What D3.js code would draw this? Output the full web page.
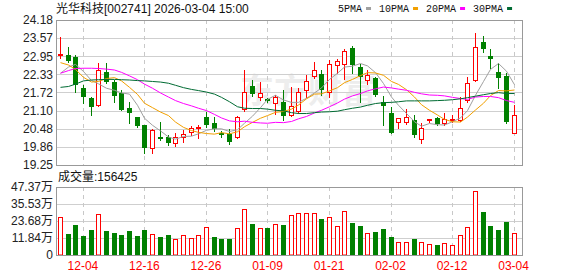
<!DOCTYPE html>
<html>
<head>
<meta charset="utf-8">
<script src="https://cdn.jsdelivr.net/npm/d3@7"></script>
<style>
body { margin: 0; background: #fff; }
svg { display: block; }
</style>
</head>
<body>
<div id="chart"></div>
<script>
// trading days shown on the chart
const dates = [
	"12-01","12-02","12-03","12-04","12-05","12-08","12-09","12-10","12-11","12-12",
	"12-15","12-16","12-17","12-18","12-19","12-22","12-23","12-24","12-25","12-26",
	"12-29","12-30","12-31","01-05","01-06","01-07","01-08","01-09","01-12","01-13",
	"01-14","01-15","01-16","01-19","01-20","01-21","01-22","01-23","01-26","01-27",
	"01-28","01-29","01-30","02-02","02-03","02-04","02-05","02-06","02-09","02-10",
	"02-11","02-12","02-13","02-24","02-25","02-26","02-27","03-02","03-03","03-04"
];

const open = [
	22.99,22.99,22.91,21.87,21.52,21.29,22.40,22.06,21.69,21.18,
	20.87,20.60,19.84,20.19,20.19,20.01,20.19,20.36,20.52,20.87,
	20.67,20.33,20.29,20.19,21.14,21.94,21.55,21.49,21.35,21.40,
	20.95,21.10,21.80,22.29,22.34,21.74,22.65,22.68,23.22,22.57,
	22.14,22.20,21.40,21.01,20.70,20.70,20.78,20.12,20.78,20.84,
	20.67,20.80,20.78,21.46,22.14,23.42,22.96,22.42,22.28,20.33
];
const high = [
	23.61,23.25,22.99,21.97,21.57,22.73,22.73,22.14,21.80,21.40,
	20.89,20.60,20.47,20.70,20.27,20.33,20.44,20.58,20.61,21.06,
	20.89,20.39,20.46,20.92,22.48,22.14,22.07,21.54,21.62,21.80,
	21.91,21.86,22.31,22.74,22.48,22.82,22.84,23.18,23.30,22.67,
	22.48,22.25,21.60,21.21,20.84,21.14,20.95,20.67,20.83,20.89,
	21.01,20.95,21.57,22.23,23.75,23.65,23.19,22.71,22.37,21.29
];
const low = [
	22.88,22.76,21.74,21.35,20.95,21.26,22.03,21.40,21.12,20.67,
	20.55,19.67,19.67,20.10,19.93,19.91,20.02,20.27,20.16,20.55,
	20.42,20.21,19.96,20.16,21.10,21.60,21.46,21.39,20.98,20.78,
	20.92,21.03,21.57,22.20,21.63,21.55,22.37,22.16,22.37,21.40,
	21.99,21.60,20.61,20.35,20.50,20.64,20.21,19.99,20.72,20.61,
	20.61,20.72,20.75,21.40,22.12,23.10,22.54,21.86,20.69,20.33
];
const close = [
	23.03,22.80,21.97,21.57,21.21,22.48,22.08,21.61,21.12,21.03,
	20.58,19.84,20.44,20.15,20.01,20.19,20.29,20.50,20.55,20.61,
	20.46,20.28,20.04,20.87,21.72,21.66,21.71,21.44,21.57,20.93,
	21.26,21.72,22.11,22.48,21.80,22.68,22.79,23.14,22.65,22.23,
	22.31,21.63,21.27,20.35,20.84,20.89,20.27,20.52,20.80,20.64,
	20.81,20.83,21.18,22.03,23.25,23.18,22.84,22.20,20.72,20.94
];
// volume, in 万 (10k lots)
const volume = [
	26.2,14.6,20.9,13.2,17.4,28.6,16.7,15.3,13.9,16.7,
	13.2,17.4,14.4,12.5,13.9,11.1,13.6,11.9,13.7,19.3,
	12.3,11.1,11.1,18.6,31.8,21.6,18.6,18.6,21.5,20.9,
	27.6,29.2,29.2,29.2,25.0,26.3,20.1,30.6,22.4,20.2,
	15.1,16.0,18.0,12.5,9.1,9.1,11.1,9.1,7.7,7.0,
	8.2,6.8,13.7,19.4,44.5,29.8,20.2,17.4,23.1,15.6425
];

// moving averages as drawn on the chart
const ma5 = [
	22.37,22.58,22.67,22.43,22.12,22.01,21.86,21.79,21.70,21.66,
	21.28,20.84,20.60,20.41,20.20,20.13,20.22,20.23,20.31,20.43,
	20.48,20.48,20.39,20.45,20.67,20.91,21.20,21.48,21.62,21.46,
	21.38,21.38,21.52,21.70,21.87,22.16,22.37,22.58,22.61,22.70,
	22.62,22.39,22.02,21.56,21.28,21.00,20.72,20.57,20.66,20.62,
	20.61,20.72,20.85,21.10,21.62,22.09,22.50,22.70,22.44,21.98
];
const ma10 = [
	22.73,22.65,22.50,22.23,22.07,22.09,22.19,22.22,22.11,21.89,
	21.65,21.35,21.20,21.05,20.93,20.71,20.53,20.42,20.36,20.32,
	20.30,20.35,20.31,20.38,20.55,20.70,20.84,20.93,21.04,21.07,
	21.15,21.29,21.50,21.66,21.67,21.77,21.88,22.05,22.16,22.29,
	22.39,22.38,22.30,22.09,21.99,21.81,21.56,21.30,21.11,20.95,
	20.80,20.72,20.71,20.88,21.12,21.35,21.61,21.78,21.77,21.80
];
const ma20 = [
	22.37,22.46,22.53,22.54,22.54,22.53,22.51,22.48,22.40,22.28,
	22.15,22.00,21.86,21.70,21.56,21.44,21.34,21.26,21.18,21.10,
	20.97,20.85,20.75,20.72,20.74,20.70,20.68,20.67,20.70,20.69,
	20.73,20.82,20.90,21.02,21.11,21.23,21.36,21.49,21.60,21.68,
	21.77,21.84,21.90,21.87,21.83,21.79,21.72,21.67,21.63,21.62,
	21.60,21.55,21.51,21.48,21.56,21.58,21.58,21.54,21.44,21.38
];
const ma30 = [
	21.89,21.92,22.00,22.11,22.14,22.15,22.16,22.16,22.15,22.14,
	22.12,22.11,22.09,22.07,22.03,21.96,21.88,21.82,21.78,21.73,
	21.66,21.55,21.40,21.23,21.18,21.17,21.17,21.15,21.11,21.09,
	21.03,21.00,21.00,21.03,21.05,21.06,21.08,21.13,21.18,21.22,
	21.28,21.34,21.37,21.38,21.40,21.43,21.43,21.43,21.43,21.44,
	21.45,21.47,21.50,21.54,21.59,21.64,21.68,21.71,21.68,21.68
];

const priceTicks = [19.25,19.86,20.48,21.10,21.72,22.33,22.95,23.57,24.18];
const volTicks = [0,11.84,23.68,35.53,47.37];
const dateTicks = ["12-04","12-16","12-26","01-09","01-21","02-02","02-12","03-04"];

const maNames = ["5PMA","10PMA","20PMA","30PMA"];
const maColors = ["#a0a0a0","#f2a000","#ff00ff","#006b33"];

const W = 578, H = 276;
const L = 56, R = 522;
const P_TOP = 20, P_BOT = 165, V_TOP = 187, V_BOT = 255;
const RED = "#ff0000", GREEN = "#008000";
const SANS = "'Liberation Sans', Arial, 'Noto Sans CJK SC', sans-serif";

const svg = d3.select("#chart").append("svg")
	.attr("width", W)
	.attr("height", H)
	.style("font-family", SANS);

svg.append("rect").attr("width", W).attr("height", H).attr("fill", "#fff");

const x = d3.scaleBand().domain(d3.range(dates.length)).range([L, 517.4]);
const cx = i => Math.round(x(i) + x.bandwidth() / 2) + 0.5;
const yP = d3.scaleLinear().domain([19.25, 24.18]).range([P_BOT, P_TOP]);
const yV = d3.scaleLinear().domain([0, 47.37]).range([V_BOT, V_TOP]);

//watermark
svg.append("text")
	.attr("x", 240).attr("y", 103)
	.attr("font-size", 34).attr("font-weight", "bold")
	.attr("font-family", "'Noto Sans CJK SC', sans-serif")
	.attr("fill", "#ededed")
	.text("东方财富");

// grid
const grid = svg.append("g");
grid.selectAll(".pg").data(priceTicks.slice(1, -1)).enter().append("line")
	.attr("x1", L).attr("x2", R)
	.attr("y1", d => Math.round(yP(d)) + 0.5).attr("y2", d => Math.round(yP(d)) + 0.5)
	.attr("stroke", "#cfcfcf");
grid.selectAll(".vg").data(volTicks.slice(1, -1)).enter().append("line")
	.attr("x1", L).attr("x2", R)
	.attr("y1", d => Math.round(yV(d)) + 0.5).attr("y2", d => Math.round(yV(d)) + 0.5)
	.attr("stroke", "#cfcfcf");

const tickIdx = dateTicks.map(d => dates.indexOf(d));
[[P_TOP, P_BOT], [V_TOP, V_BOT]].forEach(([t, b]) => {
	grid.selectAll(null).data(tickIdx).enter().append("line")
		.attr("x1", cx).attr("x2", cx)
		.attr("y1", t).attr("y2", b)
		.attr("stroke", "#c8c8c8")
		.attr("stroke-dasharray", "4,4");
});

// candles
const bars = d3.range(dates.length).map(i => ({
	i: i, o: open[i], h: high[i], l: low[i], c: close[i], v: volume[i],
	up: close[i] >= open[i],
	volUp: i === 0 ? close[i] >= open[i] : close[i] >= close[i - 1]
}));

const candle = svg.append("g").selectAll("g").data(bars).enter().append("g");

candle.append("line")
	.attr("x1", d => cx(d.i)).attr("x2", d => cx(d.i))
	.attr("y1", d => Math.round(yP(d.h))).attr("y2", d => Math.round(yP(d.l)) + 1)
	.attr("stroke", d => d.up ? RED : GREEN);

candle.append("rect")
	.attr("x", d => d.up ? cx(d.i) - 2 : cx(d.i) - 2.5)
	.attr("y", d => Math.round(yP(Math.max(d.o, d.c))) + (d.up ? 0.5 : 0))
	.attr("width", d => d.up ? 4 : 5)
	.attr("height", d => Math.max(1, Math.round(yP(Math.min(d.o, d.c))) - Math.round(yP(Math.max(d.o, d.c)))))
	.attr("fill", d => d.up ? "#fff" : GREEN)
	.attr("stroke", d => d.up ? RED : "none");

// moving averages
const maLine = d3.line().x((d, i) => cx(i)).y(d => yP(d));
[ma5, ma10, ma20, ma30].forEach((m, k) => {
	svg.append("path")
		.attr("d", maLine(m))
		.attr("fill", "none")
		.attr("stroke", maColors[k])
		.attr("stroke-width", 1);
});

// volume bars
svg.append("g").selectAll("rect").data(bars).enter().append("rect")
	.attr("x", d => d.volUp ? cx(d.i) - 2 : cx(d.i) - 2.5)
	.attr("y", d => Math.round(yV(d.v)) + (d.volUp ? 0.5 : 0))
	.attr("width", d => d.volUp ? 4 : 5)
	.attr("height", d => V_BOT - Math.round(yV(d.v)) - (d.volUp ? 0.5 : 0))
	.attr("fill", d => d.volUp ? "#fff" : GREEN)
	.attr("stroke", d => d.volUp ? RED : "none");

// panel frames
[[P_TOP, P_BOT], [V_TOP, V_BOT]].forEach(([t, b]) => {
	svg.append("rect")
		.attr("x", L + 0.5).attr("y", t + 0.5)
		.attr("width", R - L).attr("height", b - t)
		.attr("fill", "none")
		.attr("stroke", "#999");
});

// axes
const pAxis = svg.append("g")
	.attr("transform", "translate(" + L + ",0)")
	.call(d3.axisLeft(yP).tickValues(priceTicks).tickSize(0).tickPadding(3).tickFormat(d3.format(".2f")));
const vAxis = svg.append("g")
	.attr("transform", "translate(" + L + ",0)")
	.call(d3.axisLeft(yV).tickValues(volTicks).tickSize(0).tickPadding(3)
		.tickFormat(d => d === 0 ? "0" : d3.format(".2f")(d) + "万"));
const dAxis = svg.append("g")
	.attr("transform", "translate(0," + V_BOT + ")")
	.call(d3.axisBottom(x).tickValues(tickIdx).tickSize(0).tickPadding(6.5).tickFormat(i => dates[i]));

[pAxis, vAxis, dAxis].forEach(a => {
	a.select(".domain").remove();
	a.selectAll("text").attr("font-size", 12).attr("font-family", SANS).attr("fill", "#222");
});
dAxis.selectAll("text").attr("fill", RED);

// title, legend, volume caption
svg.append("text")
	.attr("x", 56).attr("y", 13)
	.attr("font-size", 12)
	.attr("fill", "#111")
	.text("光华科技[002741] 2026-03-04 15:00");

svg.append("text")
	.attr("x", 58).attr("y", 181)
	.attr("font-size", 12)
	.attr("fill", "#111")
	.text("成交量:156425");

const legend = svg.append("g").attr("transform", "translate(338,0)");
let lx = 0;
maNames.forEach((name, k) => {
	const t = legend.append("text")
		.attr("x", lx).attr("y", 12)
		.attr("font-size", 10)
		.attr("font-family", "'Liberation Mono', 'DejaVu Sans Mono', monospace")
		.attr("fill", "#111")
		.text(name);
	lx += t.node().getComputedTextLength() + 4;
	legend.append("rect")
		.attr("x", lx).attr("y", 7)
		.attr("width", 5).attr("height", 3)
		.attr("fill", maColors[k]);
	lx += 5 + 8;
});
</script>
</body>
</html>
